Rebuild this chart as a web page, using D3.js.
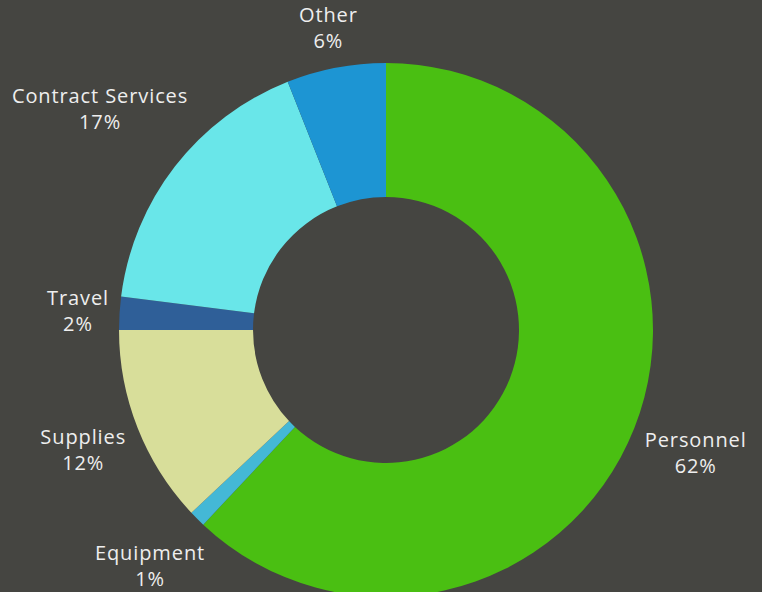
<!DOCTYPE html>
<html><head><meta charset="utf-8">
<script src="https://cdn.jsdelivr.net/npm/d3@7"></script>
<style>html,body{margin:0;padding:0;background:#454541;overflow:hidden}</style>
</head><body>
<svg id="c" width="762" height="592"></svg>
<script>
const categories = ["Personnel","Equipment","Supplies","Travel","Contract Services","Other"];
const values = [62, 1, 12, 2, 17, 6];
const colors = ["#4abf12","#44b8d6","#d8de9a","#2f5f98","#69e6e9","#1d95d3"];

const W = 762, H = 592, cx = 386, cy = 330, R = 267, r0 = 133;
const svg = d3.select("#c");
svg.append("rect").attr("width", W).attr("height", H).attr("fill", "#454541");
const g = svg.append("g").attr("transform", `translate(${cx},${cy})`);
const data = categories.map((c, i) => ({cat: c, v: values[i], col: colors[i]}));
const pie = d3.pie().value(d => d.v).sort(null);
const arc = d3.arc().innerRadius(r0).outerRadius(R);
const arcs = pie(data);
g.selectAll("path").data(arcs).join("path").attr("d", arc).attr("fill", d => d.data.col);

const total = d3.sum(values);
const fmt = d => Math.round(d / total * 100) + "%";
const labelGap = 276;
arcs.forEach(a => {
  const ang = (a.startAngle + a.endAngle) / 2;
  const ux = Math.sin(ang), uy = -Math.cos(ang);
  const t = g.append("text").attr("fill", "#eeeeee")
    .attr("font-family", "'Open Sans', sans-serif").attr("font-size", 20)
    .attr("letter-spacing", "0.9px")
    .attr("text-anchor", "middle");
  t.append("tspan").attr("x", 0).attr("y", 0).text(a.data.cat);
  t.append("tspan").attr("x", 0).attr("y", 26).text(fmt(a.data.v));
  const bb = t.node().getBBox();
  const hw = bb.width / 2, hh = bb.height / 2;
  const sup = hw * Math.abs(ux) + hh * Math.abs(uy);
  const d = labelGap + sup;
  const bx = ux * d, by = uy * d;
  const ox = bx - (bb.x + hw), oy = by - (bb.y + hh);
  t.attr("transform", `translate(${ox},${oy})`);
});
</script>
</body></html>
